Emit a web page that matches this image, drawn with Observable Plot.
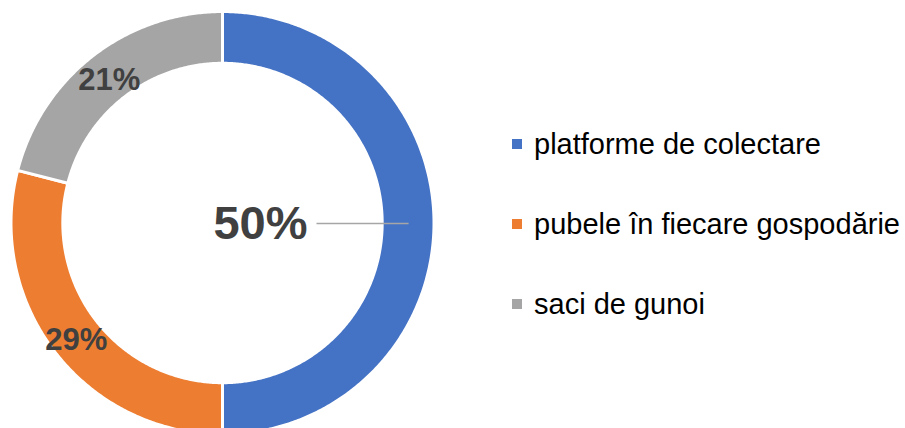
<!DOCTYPE html>
<html>
<head>
<meta charset="utf-8">
<script src="https://cdn.jsdelivr.net/npm/d3@7"></script>
<script src="https://cdn.jsdelivr.net/npm/@observablehq/plot@0.6"></script>
<style>
  html, body { margin: 0; padding: 0; background: #fff; overflow: hidden; }
  #wrap { position: relative; width: 905px; height: 428px; }
  #legend { position: absolute; left: 512px; top: 104px; font-family: "Liberation Sans", Arial, sans-serif; font-size: 29px; color: #000; }
  #legend .row { display: flex; align-items: center; height: 80px; white-space: nowrap; }
  #legend .sw { width: 10px; height: 10px; margin-right: 12px; flex: none; }
</style>
</head>
<body>
<div id="wrap"></div>
<script>
// ---- data ----
const categories = ["platforme de colectare", "pubele în fiecare gospodărie", "saci de gunoi"];
const values = [50, 29, 21];
const labels = ["50%", "29%", "21%"];
const colors = ["#4472C4", "#ED7D31", "#A5A5A5"];

// ---- geometry derived from data ----
const hole = 0.755;            // inner radius as fraction of outer
const mid = (hole + 1) / 2;    // label radius
const total = d3.sum(values);
let acc = 0;
const slices = values.map((v, i) => {
  const a0 = acc / total * 2 * Math.PI;
  acc += v;
  const a1 = acc / total * 2 * Math.PI;
  return {cat: categories[i], label: labels[i], a0, a1, am: (a0 + a1) / 2};
});
const ring = slices.flatMap(s => {
  const n = Math.max(2, Math.ceil((s.a1 - s.a0) / (Math.PI / 360)));
  return d3.range(n + 1).map(k => {
    const t = s.a0 + (s.a1 - s.a0) * k / n;
    return {cat: s.cat, x1: hole * Math.sin(t), y1: hole * Math.cos(t), x2: Math.sin(t), y2: Math.cos(t)};
  });
});
// default labels sit mid-ring; the first (largest) label was dragged into the hole with a leader line
const inRing = slices.slice(1).map(s => ({label: s.label, x: mid * Math.sin(s.am), y: mid * Math.cos(s.am)}));
const moved = slices.slice(0, 1).map(s => ({
  label: s.label,
  x: 0.177, y: mid * Math.cos(s.am),
  lx1: 0.442, lx2: mid * Math.sin(s.am), ly: mid * Math.cos(s.am)
}));

const chart = Plot.plot({
  width: 905,
  height: 428,
  margin: 0,
  x: {domain: [-1, 1], range: [11, 434], axis: null},
  y: {domain: [-1, 1], range: [434.5, 11.5], axis: null},
  color: {domain: categories, range: colors},
  style: {fontFamily: "'Liberation Sans', Arial, sans-serif", background: "white"},
  marks: [
    Plot.area(ring, {x1: "x1", y1: "y1", x2: "x2", y2: "y2", z: "cat", fill: "cat", stroke: "white", strokeWidth: 3, curve: "linear"}),
    Plot.link(moved, {x1: "lx1", y1: "ly", x2: "lx2", y2: "ly", stroke: "#A6A6A6", strokeWidth: 1.3}),
    Plot.text(inRing, {x: "x", y: "y", text: "label", fontSize: 31, fontWeight: "bold", fill: "#404040", dy: 3}),
    Plot.text(moved, {x: "x", y: "y", text: "label", fontSize: 47, fontWeight: "bold", fill: "#404040"})
  ]
});
const wrap = document.getElementById("wrap");
wrap.appendChild(chart);

const legend = document.createElement("div");
legend.id = "legend";
categories.forEach((c, i) => {
  const row = document.createElement("div");
  row.className = "row";
  const sw = document.createElement("span");
  sw.className = "sw";
  sw.style.background = colors[i];
  const tx = document.createElement("span");
  tx.textContent = c;
  row.appendChild(sw);
  row.appendChild(tx);
  legend.appendChild(row);
});
wrap.appendChild(legend);
</script>
</body>
</html>
